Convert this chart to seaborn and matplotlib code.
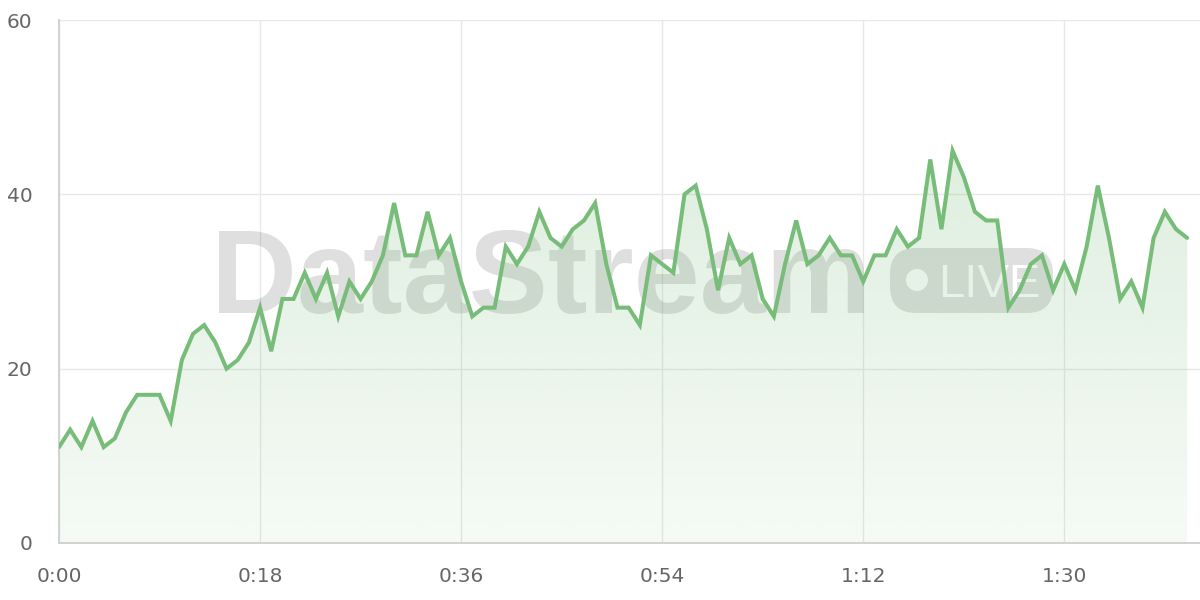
import numpy as np
import matplotlib
matplotlib.use("Agg")
import matplotlib.pyplot as plt
import seaborn as sns
from matplotlib.transforms import IdentityTransform
from matplotlib.patches import FancyBboxPatch, Circle

# ---- data (seconds, viewers) ----
seconds = list(range(102))
values = [11, 13, 11, 14, 11, 12, 15, 17, 17, 17,
          14, 21, 24, 25, 23, 20, 21, 23, 27, 22,
          28, 28, 31, 28, 31, 26, 30, 28, 30, 33,
          39, 33, 33, 38, 33, 35, 30, 26, 27, 27,
          34, 32, 34, 38, 35, 34, 36, 37, 39, 32,
          27, 27, 25, 33, 32, 31, 40, 41, 36, 29,
          35, 32, 33, 28, 26, 32, 37, 32, 33, 35,
          33, 33, 30, 33, 33, 36, 34, 35, 44, 36,
          45, 42, 38, 37, 37, 27, 29, 32, 33, 29,
          32, 29, 34, 41, 35, 28, 30, 27, 35, 38,
          36, 35]
x_ticks = [0, 18, 36, 54, 72, 90]
x_tick_labels = ["0:00", "0:18", "0:36", "0:54", "1:12", "1:30"]
y_ticks = [0, 20, 40, 60]
watermark_title = "DataStream"
watermark_badge = "LIVE"

LINE = "#78bc7a"
GRID = "#e8e8e8"
AXIS = "#d2d2d2"
TXT = "#666666"

sns.set_theme(style="white")
plt.rcParams["font.family"] = ["DejaVu Sans"]

fig = plt.figure(figsize=(12, 6), dpi=100)
ax = fig.add_axes([59 / 1200, 57 / 600, (1200 - 59) / 1200, 523 / 600])
ax.patch.set_alpha(0)

x = np.array(seconds, dtype=float)
y = np.array(values, dtype=float)

# gradient fill under the line
poly = ax.fill_between(x, y, 0, color="none", lw=0)
grad = np.linspace(0.07, 0.30, 256)
img = np.zeros((256, 1, 4))
img[..., :3] = matplotlib.colors.to_rgb(LINE)
img[:, 0, 3] = grad
im = ax.imshow(img, extent=[x.min(), x.max(), 0, 60], origin="lower",
               aspect="auto", zorder=1, interpolation="bilinear")
im.set_clip_path(poly.get_paths()[0], transform=ax.transData)

sns.lineplot(x=x, y=y, ax=ax, color=LINE, lw=2.9, zorder=3)
for l in ax.get_lines():
    l.set_solid_joinstyle("miter")

ax.set_xlim(0, 102.15)
ax.set_ylim(0, 60)
ax.set_xticks(x_ticks)
ax.set_xticklabels(x_tick_labels)
ax.set_yticks(y_ticks)
ax.set_xlabel("")
ax.set_ylabel("")

ax.grid(True, color=GRID, lw=1.0)
ax.set_axisbelow(True)
for s in ["top", "right"]:
    ax.spines[s].set_visible(False)
for s in ["left", "bottom"]:
    ax.spines[s].set_color(AXIS)
    ax.spines[s].set_linewidth(1.4)
ax.tick_params(axis="both", length=10, width=1.0, color=GRID, labelcolor=TXT,
               labelsize=14.5, pad=7)
ax.tick_params(axis="y", pad=9)

# watermark (display pixel coords, y up)
ident = IdentityTransform()
WM = (0.42, 0.42, 0.42, 0.21)
ax.text(211, 600 - 313, watermark_title, transform=ident, fontsize=85.5,
        fontweight="bold", family="Liberation Sans", color=WM,
        ha="left", va="baseline", zorder=0.8, clip_on=False)
badge = FancyBboxPatch((890, 600 - 313), 163, 65,
                       boxstyle="round,pad=0,rounding_size=26",
                       transform=ident, facecolor=WM, edgecolor="none",
                       zorder=0.8, clip_on=False)
ax.add_artist(badge)
ax.add_artist(Circle((917, 600 - 280), 11, transform=ident, facecolor="white",
                     edgecolor="none", zorder=0.9, clip_on=False))
ax.text(938, 600 - 297, watermark_badge, transform=ident, fontsize=34,
        family="Liberation Sans", color="white", ha="left", va="baseline",
        zorder=0.9, clip_on=False)

fig.savefig("out.png", dpi=100)
